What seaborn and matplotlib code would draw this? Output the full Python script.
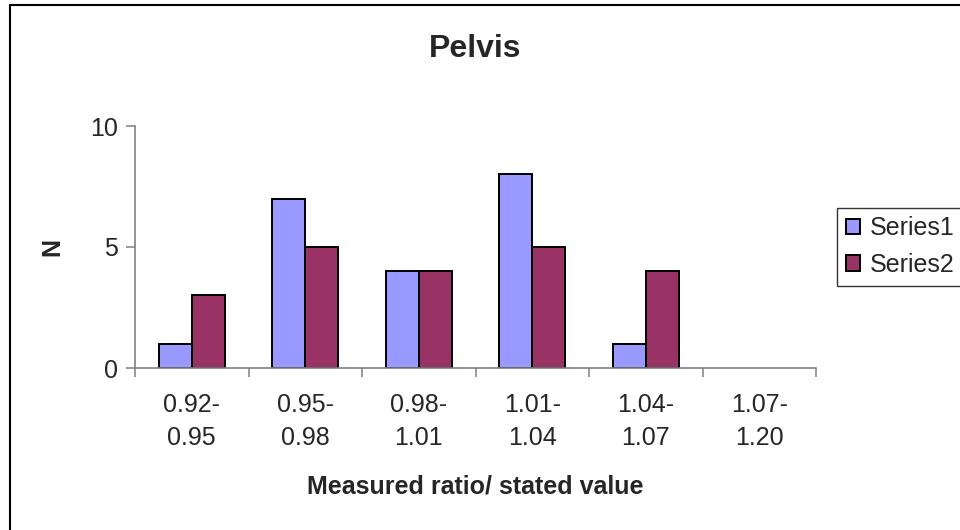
import numpy as np
import pandas as pd
import seaborn as sns
import matplotlib.pyplot as plt
from matplotlib.lines import Line2D

# Datos
categorias = ["0.92-\n0.95", "0.95-\n0.98", "0.98-\n1.01", "1.01-\n1.04", "1.04-\n1.07", "1.07-\n1.20"]
serie1 = [1, 7, 4, 8, 1, 0]
serie2 = [3, 5, 4, 5, 4, 0]
nombres = ["Series1", "Series2"]

df = pd.DataFrame({
    "cat": categorias * 2,
    "N": serie1 + serie2,
    "serie": [nombres[0]] * len(categorias) + [nombres[1]] * len(categorias),
})

sns.set_style("white")
plt.rcParams['font.family'] = ['Liberation Sans', 'DejaVu Sans']

fig = plt.figure(figsize=(9.6, 5.3), dpi=100)
ax = fig.add_axes([135 / 960, 1 - 368 / 530, 681 / 960, 242 / 530])

sns.barplot(data=df, x="cat", y="N", hue="serie", order=categorias,
            palette=["#9999FF", "#993366"], saturation=1, width=0.58,
            edgecolor="black", linewidth=1.4, ax=ax, legend=True)

# las barras de altura 0 no se ven en el original
for p in ax.patches:
    if p.get_height() == 0:
        p.set_linewidth(0)

ax.set_xlim(-0.5, len(categorias) - 0.5)
ax.set_ylim(0, 10)
ax.set_yticks([0, 5, 10])
ax.tick_params(axis="y", direction="out", length=6.5, width=1.1, color="#808080",
               labelsize=18, pad=6, left=True)

# marcas entre categorias, etiquetas en el centro
ax.set_xticks(np.arange(len(categorias) + 1) - 0.5)
ax.set_xticklabels([])
ax.set_xticks(np.arange(len(categorias)), minor=True)
ax.set_xticklabels(categorias, minor=True, fontsize=18, linespacing=1.45)
ax.tick_params(axis="x", which="major", direction="out", length=6.5, width=1.1,
               color="#808080", bottom=True)
ax.tick_params(axis="x", which="minor", length=0, pad=18)

for s in ["top", "right"]:
    ax.spines[s].set_visible(False)
for s in ["left", "bottom"]:
    ax.spines[s].set_color("#808080")
    ax.spines[s].set_linewidth(1.2)

ax.set_title("Pelvis", fontsize=23, fontweight="bold", pad=50)
ax.set_xlabel("Measured ratio/ stated value", fontsize=18, fontweight="bold", labelpad=18)
ax.set_ylabel("N", fontsize=18, fontweight="bold", labelpad=18)

handles, labels = ax.get_legend_handles_labels()
ax.legend_.remove()
leg = fig.legend(handles, labels, loc="center left", bbox_to_anchor=(837 / 960, 1 - 246.5 / 530),
                 frameon=True, fancybox=False, edgecolor="black", fontsize=18,
                 handlelength=0.56, handleheight=0.56, handletextpad=0.4,
                 labelspacing=0.5, borderpad=0.35, borderaxespad=0)
leg.get_frame().set_linewidth(1.0)
for h in leg.legend_handles:
    h.set_linewidth(1.4)

# borde exterior: solo izquierda y arriba se ven en el original
fig.add_artist(Line2D([10 / 960, 10 / 960], [0, 1 - 5 / 530], transform=fig.transFigure,
                      color="black", linewidth=1.5))
fig.add_artist(Line2D([10 / 960, 1], [1 - 5 / 530, 1 - 5 / 530], transform=fig.transFigure,
                      color="black", linewidth=1.5))

fig.savefig("out.png", dpi=100)
